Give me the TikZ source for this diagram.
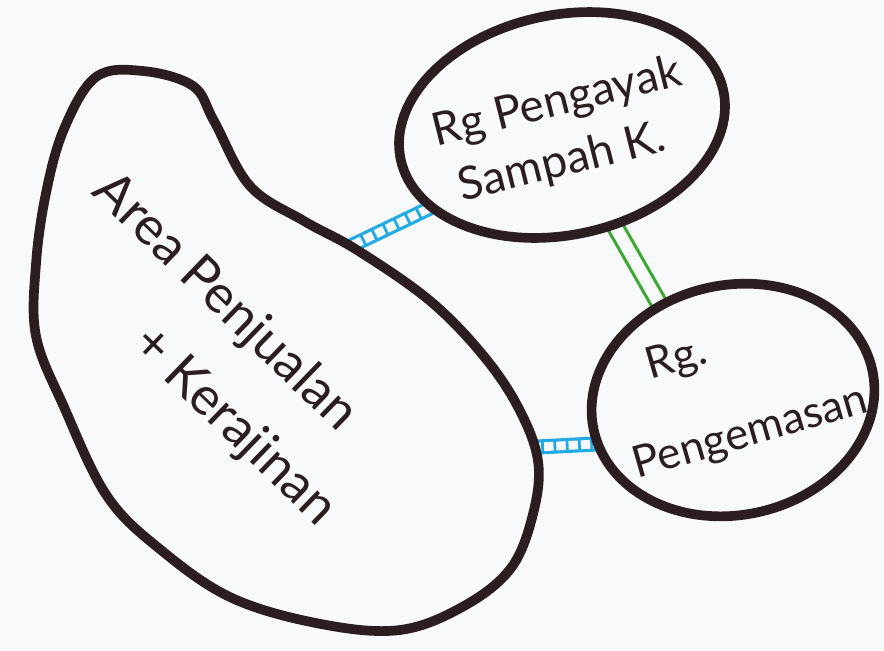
\documentclass[tikz,border=0pt]{standalone}
\usepackage{fontspec}
\setmainfont{Lato}
\usetikzlibrary{shapes.geometric,decorations.pathreplacing}
\definecolor{ink}{RGB}{44,30,32}
\definecolor{paper}{RGB}{247,249,251}
\definecolor{hall-blue}{RGB}{34,170,230}
\definecolor{hall-green}{RGB}{62,168,52}

\tikzset{
  room/.style={draw=ink, fill=paper, line width=5.5pt, ellipse, inner sep=0pt},
  roomline/.style={draw=ink, fill=paper, line width=5.5pt, line join=round},
  roomtext/.style={text=ink, font=\fontsize{26}{34}\selectfont, inner sep=0pt, align=left},
  ladder/.style={draw=hall-blue, line width=1.8pt, double=paper, double distance=5pt},
  rungs/.style={draw=hall-blue, line width=1.6pt,
    decorate, decoration={ticks, segment length=7pt, amplitude=3.4pt}},
  duct/.style={draw=hall-green, line width=1.8pt, double=paper, double distance=7pt},
}

\begin{document}
\begin{tikzpicture}[x=0.02cm, y=-0.02cm]
  % paper
  \fill[paper] (0,0) rectangle (884,650);
  \useasboundingbox (0,0) rectangle (884,650);

  % connection points
  \coordinate (jual-ne) at (330,256);
  \coordinate (ayak-sw) at (430,208);
  \coordinate (jual-e) at (518,448);
  \coordinate (kemas-w) at (615,443);
  \coordinate (ayak-se) at (600,200);
  \coordinate (kemas-n) at (664,312);

  % corridors
  \draw[ladder] (jual-ne) -- (ayak-sw);
  \draw[rungs] (jual-ne) -- (ayak-sw);
  \draw[ladder] (jual-e) -- (kemas-w);
  \draw[rungs] (jual-e) -- (kemas-w);
  \draw[duct] (ayak-se) -- (kemas-n);

  % area penjualan
  \draw[roomline] plot[smooth cycle, tension=0.6] coordinates {
    (96,77) (143,71) (193,86) (214,121) (250,186) (304,221) (357,250)
    (429,300) (482,354) (518,407) (538,461) (533,514) (511,568) (464,606)
    (400,630) (321,624) (232,598) (161,550) (107,496) (64,407) (36,336)
    (36,264) (46,193) (64,129)};
  \node[roomtext, font=\fontsize{30}{47}\selectfont, rotate=-44] (jual) at (214,350)
    {Area Penjualan\\\hspace*{2.7cm}+ Kerajinan};

  % rg pengayak sampah
  \node[room, minimum width=6.6cm, minimum height=4.4cm, rotate=12] (ayak) at (562,125) {};
  \node[roomtext, rotate=14] (ayak-txt) at (564,132) {Rg Pengayak\\\hspace*{0.25cm}Sampah K.};

  % rg pengemasan
  \node[room, minimum width=5.7cm, minimum height=4.6cm, rotate=12] (kemas) at (733,400) {};
  \node[roomtext, font=\fontsize{25}{52}\selectfont, rotate=16] (kemas-txt) at (738,390)
    {\hspace*{0.8cm}Rg.\\Pengemasan};
\end{tikzpicture}
\end{document}
